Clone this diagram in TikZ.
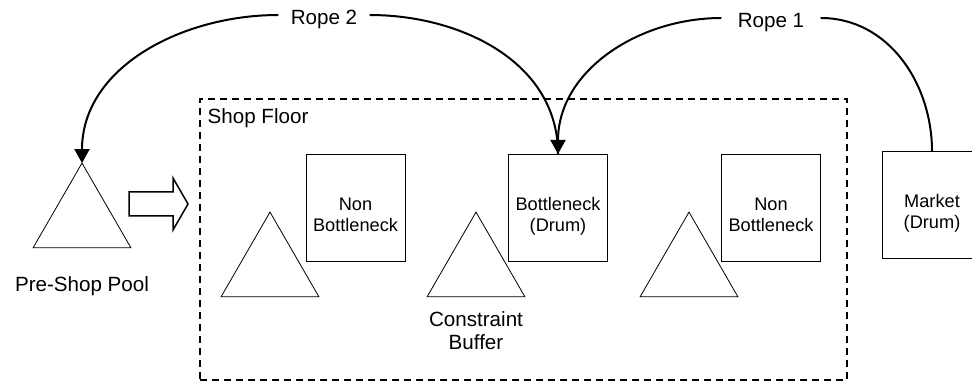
\documentclass[tikz,border=0pt]{standalone}
\usepackage{fontspec}
\setmainfont{Liberation Sans}
\usetikzlibrary{positioning,calc,arrows.meta,shapes.geometric}

\begin{document}
\begin{tikzpicture}[x=0.5pt,y=0.5pt,>={Triangle[length=7pt,width=7.5pt]},
	station/.style={draw, rectangle, align=center, line width=0.5pt, minimum width=49.5pt,
		minimum height=53.5pt, inner sep=0pt, text height=23.2pt, text depth=0pt,
		font=\fontsize{9.1}{10.5}\selectfont},
	buffer/.style={draw, regular polygon, regular polygon sides=3, minimum size=56.5pt,
		inner sep=0pt, outer sep=0pt, line width=0.4pt},
	caption/.style={align=center, font=\fontsize{10.3}{11.5}\selectfont},
	ropelabel/.style={caption, text height=10pt, text depth=0pt},
	rope/.style={line width=1pt}]

	\useasboundingbox (0,0) rectangle (972,385);
	\clip (0,0) rectangle (972,385);

	% shop floor
	\node[draw, dash pattern=on 3.5pt off 2.5pt, line width=0.75pt, minimum width=323.5pt,
		minimum height=140.5pt, inner sep=0pt] (floor) at (523.5,145.5) {};
	\node[caption, anchor=north west, inner xsep=4pt, inner ysep=5pt] (floorlbl) at (floor.north west) {Shop Floor};

	% work centres
	\node[station] (nb1) at (355.5,176.5) {Non\\Bottleneck};
	\node[station] (bn) at (558,177) {Bottleneck\\(Drum)};
	\node[station] (nb2) at (771,177) {Non\\Bottleneck};
	\node[station] (mkt) at (932,179.5) {Market\\(Drum)};

	% buffers
	\node[buffer] (pool) at (82,165.4) {};
	\node[buffer] (buf1) at (270,116.4) {};
	\node[buffer] (buf2) at (476,116.4) {};
	\node[buffer] (buf3) at (689,116.4) {};
	\node[caption, below=11pt of pool] (poollbl) {Pre-Shop Pool};
	\node[caption, below=4pt of buf2] (buflbl) {Constraint\\Buffer};

	% release into the floor
	\draw[line width=0.75pt] (129,193) -- (173,193) -- (173,207) -- (188,181)
		-- (173,155) -- (173,169) -- (129,169) -- cycle;

	% ropes
	\node[ropelabel, inner xsep=6pt] (rope2) at (324,370) {Rope 2};
	\node[ropelabel, inner xsep=8pt] (rope1) at (771,367) {Rope 1};
	\draw[rope] (bn.north) to[out=90,in=0] (rope2.east);
	\draw[rope,->] (rope2.west) to[out=180,in=90] (pool.corner 1);
	\draw[rope] (mkt.north) to[out=90,in=0] (rope1.east);
	\draw[rope,->] (rope1.west) to[out=180,in=90] (bn.north);
\end{tikzpicture}
\end{document}
